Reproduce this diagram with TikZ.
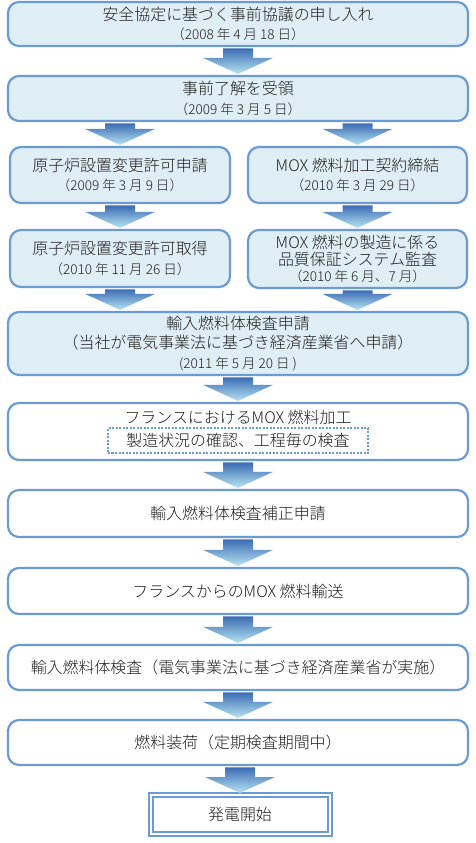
\documentclass[tikz,border=0pt]{standalone}
\usepackage{fontspec}
\setmainfont{Noto Sans CJK JP Light}
\usetikzlibrary{calc}
\definecolor{bordc}{RGB}{108,155,212}
\definecolor{fillc}{RGB}{223,238,245}
\definecolor{arrtop}{RGB}{60,108,180}
\definecolor{arrbot}{RGB}{182,228,242}
\definecolor{txtc}{RGB}{30,30,30}
\newcommand\mainf{\fontsize{16}{19.5}\selectfont}
\newcommand\datef{\fontsize{13.6}{16}\selectfont}
\newcommand\flowarrow[3]{%
  \path[arrowfill] let \p1=(#1), \p2=(#2.south), \p3=(#3.north) in
  (\x1-15bp,\y2-1.2bp) -- (\x1+15bp,\y2-1.2bp) -- (\x1+15bp,\y3+17bp)
  -- (\x1+35bp,\y3+17bp) -- (\x1,\y3+1bp) -- (\x1-35bp,\y3+17bp)
  -- (\x1-15bp,\y3+17bp) -- cycle;}
\begin{document}
\begin{tikzpicture}[x=1bp,y=-1bp,
  boxbase/.style={draw=bordc, line width=2.2bp, rounded corners=11bp,
    align=center, font=\mainf, text=txtc, inner sep=0pt},
  bluebox/.style={boxbase, fill=fillc},
  whitebox/.style={boxbase, fill=white},
  arrowfill/.style={top color=arrtop, bottom color=arrbot, draw=none},
  dotbox/.style={draw=bordc, line width=1.1bp, dash pattern=on 2bp off 1.5bp,
    minimum width=260bp, minimum height=25bp, inner sep=0pt, font=\mainf, text=txtc},
  endbox/.style={draw=bordc, double=white, double distance=2bp, line width=2bp,
    fill=white, minimum width=179bp, minimum height=39bp, inner sep=0pt,
    font=\mainf, text=txtc}
]
\useasboundingbox (0,0) rectangle (476,843);

\node[bluebox, minimum width=460bp, minimum height=44bp] (b1) at (238,24)
  {安全協定に基づく事前協議の申し入れ\\{\datef （2008 年 4 月 18 日）}};
\node[bluebox, minimum width=460bp, minimum height=45bp] (b2) at (238,98.5)
  {事前了解を受領\\{\datef （2009 年 3 月 5 日）}};
\node[bluebox, minimum width=220bp, minimum height=56bp] (b3l) at (120,175)
  {原子炉設置変更許可申請\\{\datef （2009 年 3 月 9 日）}};
\node[bluebox, minimum width=219bp, minimum height=56bp] (b3r) at (357.5,175)
  {MOX 燃料加工契約締結\\{\datef （2010 年 3 月 29 日）}};
\node[bluebox, minimum width=220bp, minimum height=57bp] (b4l) at (120,258.5)
  {原子炉設置変更許可取得\\{\datef （2010 年 11 月 26 日）}};
\node[bluebox, minimum width=219bp, minimum height=58bp] (b4r) at (357.5,259)
  {MOX 燃料の製造に係る\\[-3bp]品質保証システム監査\\[-3bp]{\datef （2010 年 6 月、7 月）}};
\node[bluebox, minimum width=460bp, minimum height=63bp] (b5) at (238,343.5)
  {輸入燃料体検査申請\\（当社が電気事業法に基づき経済産業省へ申請）\\{\datef (2011 年 5 月 20 日 )}};
\node[whitebox, minimum width=460bp, minimum height=57bp] (b6) at (238,431.5) {};
\node (b6t) at (238,417) [font=\mainf, text=txtc] {フランスにおけるMOX 燃料加工};
\node[dotbox] (b6d) at (238,440.5) {製造状況の確認、工程毎の検査};
\node[whitebox, minimum width=460bp, minimum height=47bp] (b7) at (238,513.5)
  {輸入燃料体検査補正申請};
\node[whitebox, minimum width=460bp, minimum height=46bp] (b8) at (238,591)
  {フランスからのMOX 燃料輸送};
\node[whitebox, minimum width=460bp, minimum height=45bp] (b9) at (238,667.5)
  {輸入燃料体検査（電気事業法に基づき経済産業省が実施）};
\node[whitebox, minimum width=460bp, minimum height=45bp] (b10) at (238,742.5)
  {燃料装荷（定期検査期間中）};
\node[endbox] (fin) at (240,814.5) {発電開始};

\flowarrow{b1}{b1}{b2}
\flowarrow{b3l}{b2}{b3l}
\flowarrow{b3r}{b2}{b3r}
\flowarrow{b3l}{b3l}{b4l}
\flowarrow{b3r}{b3r}{b4r}
\flowarrow{b4l}{b4l}{b5}
\flowarrow{b4r}{b4r}{b5}
\flowarrow{b5}{b5}{b6}
\flowarrow{b6}{b6}{b7}
\flowarrow{b7}{b7}{b8}
\flowarrow{b8}{b8}{b9}
\flowarrow{b9}{b9}{b10}
\flowarrow{fin}{b10}{fin}
\end{tikzpicture}
\end{document}
